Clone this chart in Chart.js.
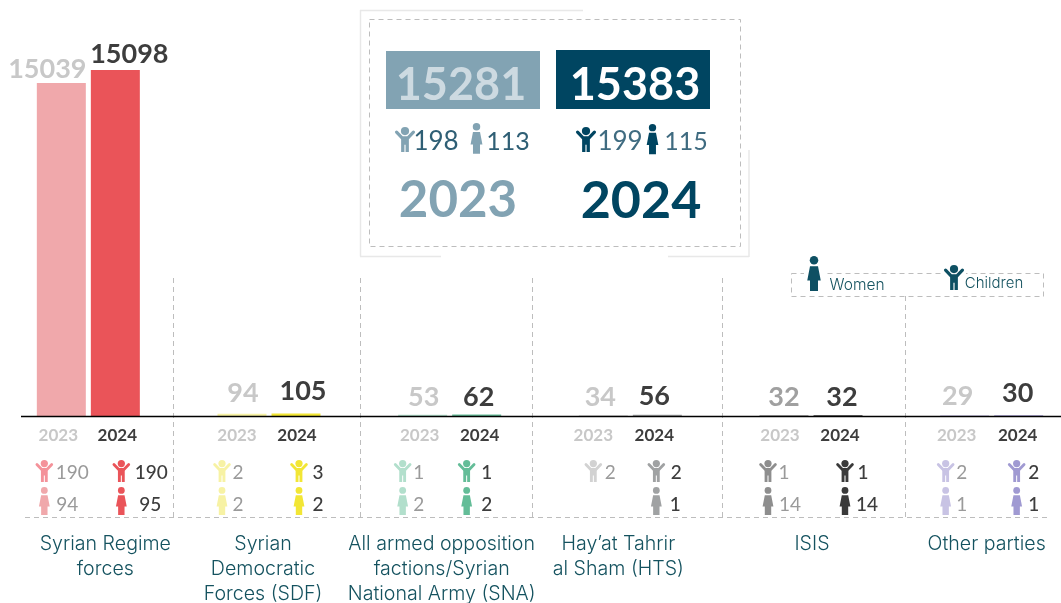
<!DOCTYPE html>
<html>
<head>
<meta charset="utf-8">
<script src="https://cdn.jsdelivr.net/npm/chart.js@4"></script>
<style>
html,body{margin:0;padding:0;background:#fff;overflow:hidden;width:1061px;height:603px}
#c{position:absolute;left:-2px;top:0}
</style>
</head>
<body>
<canvas id="c" width="1084" height="603"></canvas>
<script>
// ---- data ----
const categories = [
  ['Syrian Regime','forces'],
  ['Syrian','Democratic','Forces (SDF)'],
  ['All armed opposition','factions/Syrian','National Army (SNA)'],
  ['Hay\u2019at Tahrir','al Sham (HTS)'],
  ['ISIS'],
  ['Other parties']
];
const years = ['2023','2024'];
const values2023 = [15039, 94, 53, 34, 32, 29];
const values2024 = [15098, 105, 62, 56, 32, 30];
// The reference draws the first 2023 bar shorter than its printed 15039 implies; this is the height as drawn.
const drawnBars2023 = [14530, 94, 53, 34, 32, 29];
const children2023 = [190, 2, 1, 2, 1, 2];
const children2024 = [190, 3, 1, 2, 1, 2];
const women2023 = [94, 2, 2, null, 14, 1];
const women2024 = [95, 2, 2, 1, 14, 1];
const totals = {y2023:15281, y2024:15383, children2023:198, women2023:113, children2024:199, women2024:115};

// ---- styles and layout ----
const bar23 = ['#f0a8ab','#f7f2a4','#b2dfcc','#d2d2d2','#8e8e8e','#c8c3e4'];
const bar24 = ['#ea5459','#f2e635','#64bd98','#a0a2a3','#3a3a3a','#a09ad2'];
const valueColor23 = ['#c8c8c8','#c8c8c8','#c8c8c8','#c8c8c8','#a0a0a0','#c8c8c8'];
const dxValue23 = [-41,-26,-26,-30,-27,-34], dxValue24 = [41,34,29,24,31,26];
const yValue23 = [69,393,397,397,397,396], yValue24 = [54,391,397,396,397,393];
const dxYear23 = [-30,-32,-30,-37,-31,-35], dxYear24 = [29,28,30,24,29,26];
const dxIcon23 = [-44,-47,-47,-37,-43,-46], dxIcon24 = [33,30,17,26,34,25];
const dxChild23 = [-16,-31,-31,-20,-27,-30], dxChild24 = [63,49,37,46,52,42];
const dxWoman23 = [-21,-31,-31,0,-21,-30], dxWoman24 = [62,49,37,45,56,42];
const dxCat = [17,-6,-8,-12,1,-5];
const FONT = 'Lato, sans-serif';
const TEAL = '#004561';

function text(ctx, s, x, y, font, color, align){
  ctx.font = font; ctx.fillStyle = color; ctx.textAlign = align || 'center';
  ctx.textBaseline = 'middle'; ctx.fillText(String(s), x, y);
}
function childIcon(ctx, cx, top, color, k){
  k = k || 1;
  ctx.save(); ctx.translate(cx, top); ctx.scale(k, k);
  ctx.fillStyle = color; ctx.strokeStyle = color;
  ctx.beginPath(); ctx.arc(0, 3.6, 3.6, 0, Math.PI*2); ctx.fill();
  ctx.lineWidth = 2.8; ctx.lineCap = 'round'; ctx.lineJoin = 'round';
  ctx.beginPath(); ctx.moveTo(-7.4, 4.5); ctx.lineTo(-2.6, 9.5); ctx.lineTo(2.6, 9.5); ctx.lineTo(7.4, 4.5); ctx.stroke();
  ctx.beginPath();
  ctx.moveTo(-3.4, 9); ctx.lineTo(3.4, 9); ctx.lineTo(3.4, 22); ctx.lineTo(0.5, 22); ctx.lineTo(0.5, 15.5);
  ctx.lineTo(-0.5, 15.5); ctx.lineTo(-0.5, 22); ctx.lineTo(-3.4, 22); ctx.closePath(); ctx.fill();
  ctx.restore();
}
function womanIcon(ctx, cx, top, color, k){
  k = k || 1;
  ctx.save(); ctx.translate(cx, top); ctx.scale(k, k);
  ctx.fillStyle = color;
  ctx.beginPath(); ctx.arc(0, 3.4, 3.4, 0, Math.PI*2); ctx.fill();
  ctx.beginPath();
  ctx.moveTo(-3.2, 8.2); ctx.lineTo(3.2, 8.2); ctx.lineTo(5.4, 19.5); ctx.lineTo(3.2, 19.5); ctx.lineTo(3.2, 28);
  ctx.lineTo(-3.2, 28); ctx.lineTo(-3.2, 19.5); ctx.lineTo(-5.4, 19.5); ctx.closePath(); ctx.fill();
  ctx.restore();
}
function line(ctx, x0, y0, x1, y1, color, w, dash){
  ctx.save(); ctx.strokeStyle = color; ctx.lineWidth = w; ctx.setLineDash(dash || []);
  ctx.beginPath(); ctx.moveTo(x0, y0); ctx.lineTo(x1, y1); ctx.stroke(); ctx.restore();
}

const annotate = {
  id:'annotate',
  afterDraw(chart){
    const ctx = chart.ctx, xs = chart.scales.x, y0 = chart.scales.y.getPixelForValue(0);
    ctx.save();
    ctx.translate(2, 0); // the canvas sits 2px left of the page; everything below is in page coordinates
    const px = i => xs.getPixelForValue(i) - 2; // page x of a category centre
    const dash = [5,4], dashC = '#bdbdbd';

    // separators
    [[173.5,278],[360.5,278],[532.5,278],[722.5,278],[905.5,296]].forEach(s => line(ctx, s[0], s[1], s[0], 517, dashC, 1, dash));
    line(ctx, 25, 517.5, 1048, 517.5, dashC, 1, dash);
    line(ctx, 21, y0 + 0.5, 1061, y0 + 0.5, '#000', 1.5);

    categories.forEach((cat, i) => {
      const g = px(i);
      text(ctx, values2023[i], g + dxValue23[i], yValue23[i], '700 27px '+FONT, valueColor23[i]);
      text(ctx, values2024[i], g + dxValue24[i], yValue24[i], '700 27px '+FONT, '#3d3d3d');
      text(ctx, years[0], g + dxYear23[i], 435.5, '700 17px '+FONT, '#c8c8c8');
      text(ctx, years[1], g + dxYear24[i], 435.5, '700 17px '+FONT, '#3d3d3d');
      childIcon(ctx, g + dxIcon23[i], 460, i===0 ? '#f4929a' : bar23[i]);
      childIcon(ctx, g + dxIcon24[i], 460, bar24[i]);
      text(ctx, children2023[i], g + dxChild23[i], 473, '400 19px '+FONT, '#9a9a9a');
      text(ctx, children2024[i], g + dxChild24[i], 473, '500 19px '+FONT, '#3d3d3d');
      if (women2023[i] !== null){
        womanIcon(ctx, g + dxIcon23[i], 487, bar23[i]);
        text(ctx, women2023[i], g + dxWoman23[i], 505, '400 19px '+FONT, '#9a9a9a');
      }
      womanIcon(ctx, g + dxIcon24[i], 487, bar24[i]);
      text(ctx, women2024[i], g + dxWoman24[i], 505, '500 19px '+FONT, '#3d3d3d');
      cat.forEach((l, n) => text(ctx, l, g + dxCat[i], 544 + n*25, '300 19.6px Inter, sans-serif', '#14525f'));
    });

    // summary panel
    const pale = '#e8e8e8';
    line(ctx, 360, 10.5, 583, 10.5, pale, 1.5);
    line(ctx, 360.5, 10, 360.5, 256.5, pale, 1.5);
    line(ctx, 360, 256.5, 441, 256.5, pale, 1.5);
    line(ctx, 668, 256.5, 749, 256.5, pale, 1.5);
    line(ctx, 749, 150, 749, 257, pale, 1.5);
    ctx.save(); ctx.strokeStyle = dashC; ctx.lineWidth = 1; ctx.setLineDash(dash);
    ctx.strokeRect(369.5, 19.5, 371, 227); ctx.restore();
    ctx.fillStyle = '#82a3b3'; ctx.fillRect(386, 51, 154, 58);
    ctx.fillStyle = TEAL; ctx.fillRect(556, 50, 154, 59);
    text(ctx, totals.y2023, 461, 85, '700 45px '+FONT, '#cddae1');
    text(ctx, totals.y2024, 635, 85, '700 45px '+FONT, '#fff');
    childIcon(ctx, 405, 127, '#82a3b3', 1.14);
    text(ctx, totals.children2023, 436, 142, '400 26px '+FONT, '#2f5f75');
    womanIcon(ctx, 476.5, 123, '#82a3b3', 1.1);
    text(ctx, totals.women2023, 508, 142, '400 25px '+FONT, '#2f5f75');
    childIcon(ctx, 586, 127, TEAL, 1.14);
    text(ctx, totals.children2024, 620, 142, '400 26px '+FONT, '#3f6b80');
    womanIcon(ctx, 652.5, 124, TEAL, 1.08);
    text(ctx, totals.women2024, 686, 142, '400 25px '+FONT, '#3f6b80');
    text(ctx, years[0], 458, 201, '700 51px '+FONT, '#82a3b3');
    text(ctx, years[1], 641, 201, '700 52px '+FONT, TEAL);

    // legend
    ctx.save(); ctx.strokeStyle = dashC; ctx.lineWidth = 1; ctx.setLineDash(dash);
    ctx.strokeRect(791.5, 273.5, 252, 23); ctx.restore();
    ctx.fillStyle = '#fff'; ctx.fillRect(804, 262, 20, 12); ctx.fillRect(942, 262, 24, 12);
    womanIcon(ctx, 814, 256, '#0e5063', 1.25);
    text(ctx, 'Women', 857, 285, '300 15.5px Inter, sans-serif', '#14525f');
    childIcon(ctx, 954, 265, '#0e5063', 1.14);
    text(ctx, 'Children', 994, 283.5, '300 15px Inter, sans-serif', '#14525f');
    ctx.restore();
  }
};

new Chart(document.getElementById('c'), {
  type:'bar',
  data:{
    labels: categories.map(c => c.join(' ')),
    datasets:[
      {label:years[0], data:drawnBars2023, backgroundColor:bar23, borderWidth:0},
      {label:years[1], data:values2024, backgroundColor:bar24, borderWidth:0}
    ]
  },
  options:{
    responsive:false, animation:false,
    categoryPercentage:0.598, barPercentage:0.907,
    layout:{padding:{top:0,bottom:187,left:0,right:0}},
    plugins:{legend:{display:false},tooltip:{enabled:false}},
    scales:{
      x:{display:false},
      y:{display:false,min:0,max:18152}
    }
  },
  plugins:[annotate]
});
</script>
</body>
</html>
